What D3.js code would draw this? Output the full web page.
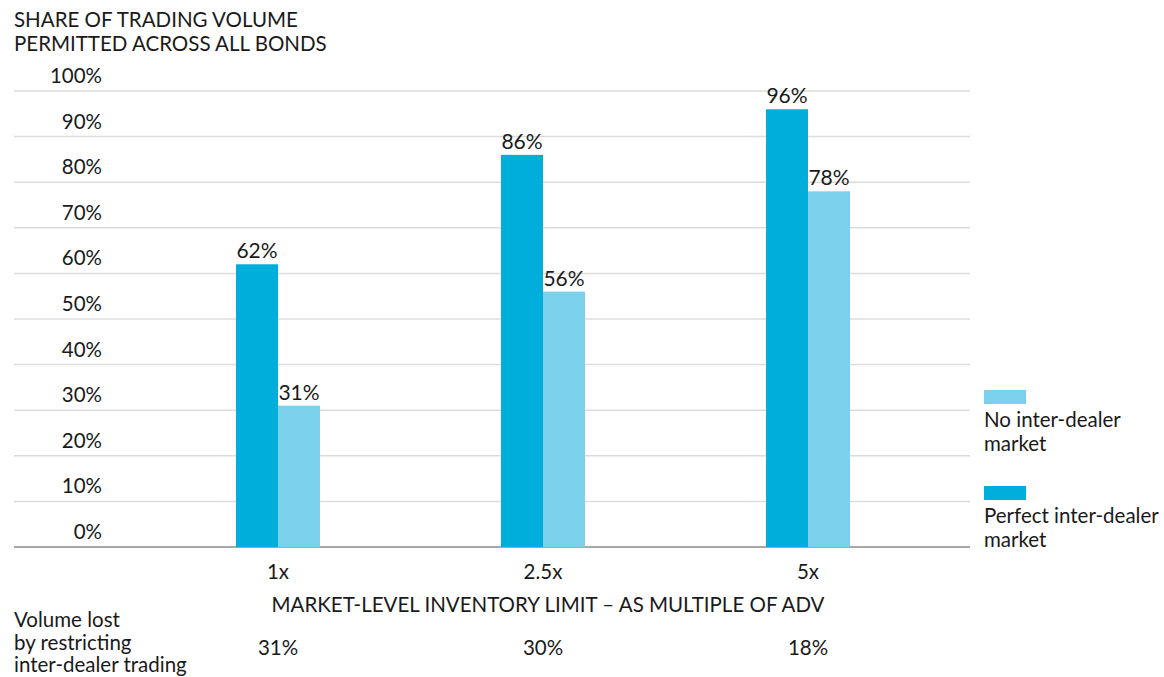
<!DOCTYPE html>
<html><head><meta charset="utf-8">
<script src="https://cdn.jsdelivr.net/npm/d3@7"></script>
<style>
body{margin:0;background:#fff;}
text{font-family:Lato,"Open Sans",sans-serif;fill:#1a1a1a;}
</style></head>
<body><svg id="c" width="1164" height="677"></svg>
<script>
const categories = ["1x","2.5x","5x"];
const perfect = [62,86,96];
const noInter = [31,56,78];
const volumeLost = ["31%","30%","18%"];
const yTicks = [0,10,20,30,40,50,60,70,80,90,100];
const seriesNames = ["Perfect inter-dealer market","No inter-dealer market"];
const colors = {"Perfect inter-dealer market":"#00aedb","No inter-dealer market":"#7bd0eb"};
const FS = 20.5;

const svg = d3.select("#c");
const y = d3.scaleLinear().domain([0,100]).range([547,91]);
const x = d3.scaleBand().domain(categories).range([145.5,940.5]).paddingInner(0.683).paddingOuter(0.3415);
const xs = d3.scaleBand().domain(seriesNames).range([0,x.bandwidth()]);

// grid
svg.append("g").selectAll("line").data(yTicks).join("line")
  .attr("x1",14).attr("x2",970).attr("y1",d=>y(d)).attr("y2",d=>y(d))
  .attr("stroke",d=>d===0?"#a8a8a8":"#dcdcdc").attr("stroke-width",d=>d===0?2:1.5);
svg.append("g").selectAll("text").data(yTicks).join("text")
  .attr("x",102).attr("y",d=>y(d)-8).attr("text-anchor","end")
  .attr("font-size",FS).text(d=>d+"%");

// title
const t = svg.append("text").attr("x",14).attr("y",26.5).attr("font-size",FS);
t.append("tspan").attr("x",14).attr("dy",0).text("SHARE OF TRADING VOLUME");
t.append("tspan").attr("x",14).attr("dy",24.5).text("PERMITTED ACROSS ALL BONDS");

const rows = categories.map((c,i)=>({c, vals:[{s:seriesNames[0],v:perfect[i]},{s:seriesNames[1],v:noInter[i]}]}));
const g = svg.append("g").selectAll("g").data(rows).join("g").attr("transform",d=>`translate(${x(d.c)},0)`);
g.selectAll("rect").data(d=>d.vals).join("rect")
  .attr("x",d=>xs(d.s)).attr("width",xs.bandwidth()).attr("y",d=>y(d.v)).attr("height",d=>y(0)-y(d.v))
  .attr("fill",d=>colors[d.s]);
g.selectAll("text").data(d=>d.vals).join("text")
  .attr("x",d=>xs(d.s)+xs.bandwidth()/2).attr("y",d=>y(d.v)-6).attr("text-anchor","middle")
  .attr("font-size",21).text(d=>d.v+"%");

// x labels
svg.append("g").selectAll("text").data(categories).join("text")
  .attr("x",d=>x(d)+x.bandwidth()/2).attr("y",579).attr("text-anchor","middle")
  .attr("font-size",FS).text(d=>d);
svg.append("text").attr("x",548).attr("y",612).attr("text-anchor","middle").attr("font-size",FS)
  .text("MARKET-LEVEL INVENTORY LIMIT – AS MULTIPLE OF ADV");

// volume lost row
const vl = svg.append("text").attr("x",14).attr("y",627).attr("font-size",FS);
["Volume lost","by restricting","inter-dealer trading"].forEach((s,i)=>vl.append("tspan").attr("x",14).attr("dy",i?22.5:0).text(s));
svg.append("g").selectAll("text").data(categories).join("text")
  .attr("x",d=>x(d)+x.bandwidth()/2).attr("y",655).attr("text-anchor","middle")
  .attr("font-size",FS).text((d,i)=>volumeLost[i]);

// legend
const legendItems = [seriesNames[1],seriesNames[0]];
const legendLines = {"No inter-dealer market":["No inter-dealer","market"],"Perfect inter-dealer market":["Perfect inter-dealer","market"]};
const lg = svg.append("g").selectAll("g").data(legendItems).join("g").attr("transform",(d,i)=>`translate(984,${390+i*96})`);
lg.append("rect").attr("width",42).attr("height",14).attr("fill",d=>colors[d]);
lg.append("text").attr("font-size",FS).attr("y",37).each(function(d){
  const s=d3.select(this);
  legendLines[d].forEach((l,i)=>s.append("tspan").attr("x",0).attr("dy",i?24:0).text(l));
});
</script></body></html>
